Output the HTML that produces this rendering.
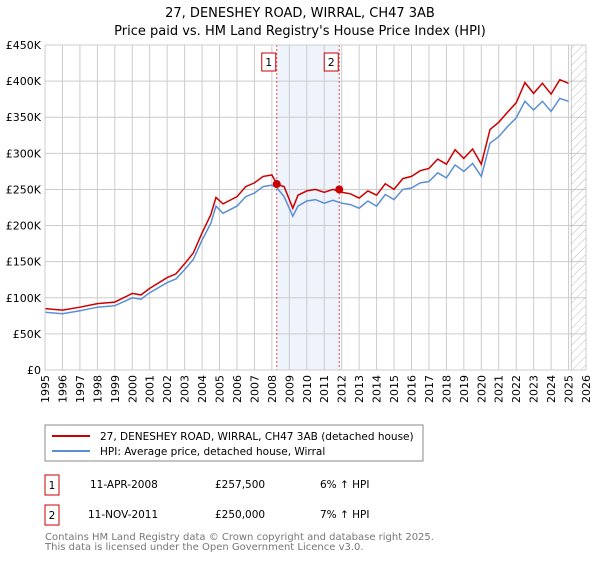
<!DOCTYPE html>
<html><head><meta charset="utf-8"><style>
body{margin:0;background:#fff;font-family:"Liberation Sans","DejaVu Sans",sans-serif;}
svg text{font-family:"DejaVu Sans","Liberation Sans",sans-serif;}
</style></head><body>
<svg id="chart" width="600" height="560" viewBox="0 0 600 560">
<text x="300" y="17" text-anchor="middle" font-size="13" fill="#000">27, DENESHEY ROAD, WIRRAL, CH47 3AB</text>
<text x="300" y="35" text-anchor="middle" font-size="13" fill="#000">Price paid vs. HM Land Registry's House Price Index (HPI)</text>
<g id="grid"></g><g id="marks"></g><g id="axes"></g>
<rect x="45" y="425" width="378" height="36" fill="#fff" stroke="#888"/>
<line x1="52" y1="436" x2="90" y2="436" stroke="#cc0000" stroke-width="2"/>
<text x="100" y="440" font-size="10.5">27, DENESHEY ROAD, WIRRAL, CH47 3AB (detached house)</text>
<line x1="52" y1="451" x2="90" y2="451" stroke="#5b8fd4" stroke-width="2"/>
<text x="100" y="455" font-size="10.5">HPI: Average price, detached house, Wirral</text>
<rect x="45" y="475" width="14" height="20" fill="#fff" stroke="#cc0000"/>
<text x="52" y="489" font-size="10.5" text-anchor="middle">1</text>
<text x="90" y="488" font-size="10.5">11-APR-2008</text>
<text x="215" y="488" font-size="10.5">£257,500</text>
<text x="320" y="488" font-size="10.5">6% ↑ HPI</text>
<rect x="45" y="505" width="14" height="20" fill="#fff" stroke="#cc0000"/>
<text x="52" y="519" font-size="10.5" text-anchor="middle">2</text>
<text x="88" y="518" font-size="10.5">11-NOV-2011</text>
<text x="215" y="518" font-size="10.5">£250,000</text>
<text x="320" y="518" font-size="10.5">7% ↑ HPI</text>
<text x="45" y="540" font-size="10" fill="#777">Contains HM Land Registry data © Crown copyright and database right 2025.</text>
<text x="45" y="550" font-size="10" fill="#777">This data is licensed under the Open Government Licence v3.0.</text>
</svg>
<script>
const hpiYears=[1995,1996,1997,1998,1999,2000,2000.5,2001,2002,2002.5,2003,2003.5,2004,2004.5,2004.8,2005.2,2006,2006.5,2007,2007.5,2008,2008.3,2008.7,2009.2,2009.5,2010,2010.5,2011,2011.5,2012,2012.5,2013,2013.5,2014,2014.5,2015,2015.5,2016,2016.5,2017,2017.5,2018,2018.5,2019,2019.5,2020,2020.5,2021,2021.5,2022,2022.5,2023,2023.5,2024,2024.5,2025];
const hpiValues=[80,78,82,87,89,100,98,107,121,126,139,153,180,203,227,217,227,240,245,254,256,252,240,213,227,234,236,231,235,231,229,224,234,227,243,236,250,252,259,261,273,266,284,275,286,268,314,323,337,349,372,360,372,358,376,372];
const priceValues=[85,83,87,92,94,106,104,113,128,133,147,162,190,215,239,230,240,254,259,268,270,257,254,224,242,248,250,246,250,246,244,238,248,242,258,250,265,268,276,279,292,285,305,293,306,285,333,343,357,370,398,383,397,382,402,397];
const saleYears=[2008.28,2011.86];
const saleValues=[257.5,250];
const yTicks=[0,50,100,150,200,250,300,350,400,450];
const yTickLabels=["£0","£50K","£100K","£150K","£200K","£250K","£300K","£350K","£400K","£450K"];
const xYears=[];for(let y=1995;y<=2026;y++)xYears.push(y);
const X0=45,X1=586,Y0=370,Y1=45;
const sx=y=>X0+(y-1995)/(2026-1995)*(X1-X0);
const sy=v=>Y0-v/450*(Y0-Y1);
const NS="http://www.w3.org/2000/svg";
function mk(t,a,p){const e=document.createElementNS(NS,t);for(const k in a)e.setAttribute(k,a[k]);p.appendChild(e);return e;}
const grid=document.getElementById('grid'),marks=document.getElementById('marks'),axes=document.getElementById('axes');
let e=mk('rect',{x:sx(saleYears[0]),y:Y1,width:sx(saleYears[1])-sx(saleYears[0]),height:Y0-Y1,fill:'#eef3fc'},grid);


xYears.forEach(y=>{mk('line',{x1:sx(y),x2:sx(y),y1:Y1,y2:Y0,stroke:'#ccc','stroke-width':1},grid);
 const tx=sx(y)+4,ty=Y0+5;
 const t=mk('text',{x:tx,y:ty,'text-anchor':'end','font-size':11,transform:'rotate(-90 '+tx+' '+ty+')'},axes);t.textContent=y;
 
 });
yTicks.forEach((v,i)=>{mk('line',{x1:X0,x2:X1,y1:sy(v),y2:sy(v),stroke:'#ccc','stroke-width':1},grid);
 const t=mk('text',{x:X0-4,y:sy(v)+4,'text-anchor':'end','font-size':11},axes);t.textContent=yTickLabels[i];
 
 });
const hx=sx(2025.15);
mk('defs',{},grid).innerHTML='<pattern id="h" width="6" height="6" patternUnits="userSpaceOnUse" patternTransform="rotate(45)"><line x1="0" y1="0" x2="0" y2="6" stroke="#bbb" stroke-width="1"/></pattern>';
e=mk('rect',{x:hx,y:Y1,width:X1-hx,height:Y0-Y1,fill:'url(#h)',stroke:'#999','stroke-width':0.5},grid);


saleYears.forEach((y,i)=>{mk('line',{x1:sx(y),x2:sx(y),y1:Y1,y2:Y0,stroke:'#e05050','stroke-width':1,'stroke-dasharray':'2,2'},marks);
 const b=mk('rect',{x:sx(y)-15,y:53,width:14,height:18,fill:'#fff',stroke:'#cc0000'},marks);
 
 
 const t=mk('text',{x:sx(y)-8,y:66,'text-anchor':'middle','font-size':11},marks);t.textContent=i+1;});
function path(vals,color,name){const d=hpiYears.map((y,i)=>(i?'L':'M')+sx(y).toFixed(1)+','+sy(vals[i]).toFixed(1)).join('');
 const p=mk('path',{d:d,fill:'none',stroke:color,'stroke-width':1.5},marks);
 
 }
path(hpiValues,'#5b8fd4','hpi-line');
path(priceValues,'#cc0000','price-line');
saleYears.forEach((y,i)=>{const c=mk('circle',{cx:sx(y),cy:sy(saleValues[i]),r:4,fill:'#cc0000'},marks);
 
 });
mk('rect',{x:X0,y:Y1,width:X1-X0,height:Y0-Y1,fill:'none',stroke:'#ccc'},axes);
</script>
</body></html>
